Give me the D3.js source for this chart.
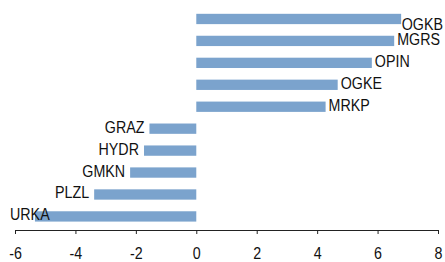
<!doctype html>
<html>
<head>
    <meta charset="UTF-8">
    <title>Bars</title>
    <script src="https://d3js.org/d3.v7.min.js"></script>
    <style>
        body { margin: 0; background: #fff; }
        text { font-family: "Liberation Sans", Arial, sans-serif; fill: #111; }
    </style>
</head>
<body>
    <script>
        var tickers = ["OGKB", "MGRS", "OPIN", "OGKE", "MRKP", "GRAZ", "HYDR", "GMKN", "PLZL", "URKA"];
        var values = [6.78, 6.55, 5.81, 4.68, 4.28, -1.55, -1.73, -2.19, -3.38, -5.34];
        var xTicks = [-6, -4, -2, 0, 2, 4, 6, 8];

        var w = 445;
        var h = 262;
        var fontSize = 17;
        var squeeze = 0.84; // text in the original is a bit condensed

        var svg = d3.select("body").append("svg")
            .attr("width", w)
            .attr("height", h);

        var x = d3.scaleLinear().domain([-6, 8]).range([15, 438]);
        var y = d3.scaleBand().domain(tickers).range([8, 227.4])
            .paddingInner(0.53).paddingOuter(0.265);

        var data = tickers.map(function (t, i) {
            return { name: t, value: values[i] };
        });

        // bars
        svg.selectAll("rect")
            .data(data)
            .enter()
            .append("rect")
            .attr("x", function (d) { return x(Math.min(0, d.value)); })
            .attr("y", function (d) { return y(d.name); })
            .attr("width", function (d) { return Math.abs(x(d.value) - x(0)); })
            .attr("height", y.bandwidth())
            .attr("fill", "#7ba3cd");

        // x axis
        var axis = svg.append("g")
            .attr("transform", "translate(0,230)")
            .call(d3.axisBottom(x).tickValues(xTicks).tickSize(4).tickPadding(13)
                .tickFormat(function (d) { return d; }));
        axis.selectAll("path, line").attr("stroke", "#222");
        axis.attr("font-family", null);
        axis.selectAll("text").attr("font-size", fontSize).attr("fill", "#111")
            .attr("transform", "scale(" + squeeze + ",1)");

        // labels
        var labels = svg.selectAll("text.lbl")
            .data(data)
            .enter()
            .append("text")
            .attr("class", "lbl")
            .attr("font-size", fontSize)
            .text(function (d) { return d.name; });

        labels.each(function (d) {
            var t = d3.select(this);
            var len = this.getComputedTextLength() * squeeze;
            var cy = y(d.name) + y.bandwidth() / 2 + 4;
            var lx;
            if (d.value >= 0) {
                lx = x(d.value) + 3;
                if (lx + len > w - 2) {
                    lx = w - 2 - len;
                    cy += 7;
                }
            } else {
                lx = x(d.value) - 5 - len;
                if (lx < 10) lx = 10;
            }
            t.attr("transform", "translate(" + lx + "," + cy + ") scale(" + squeeze + ",1)");
        });
    </script>
</body>
</html>
